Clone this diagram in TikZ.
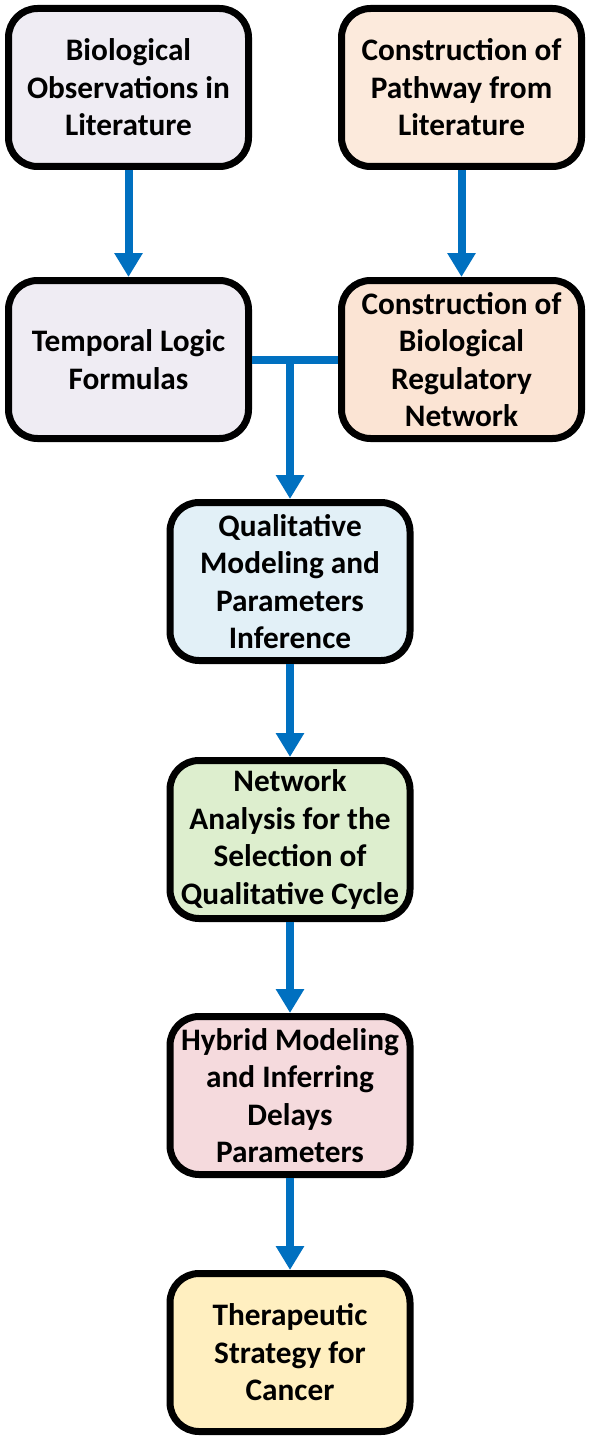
\documentclass[tikz,border=0pt]{standalone}
\usepackage{fontspec}
\setmainfont{Carlito}
\usetikzlibrary{positioning, arrows.meta}
\definecolor{lavfill}{RGB}{239,236,243}
\definecolor{peachA}{RGB}{252,234,220}
\definecolor{peachB}{RGB}{251,228,212}
\definecolor{qblue}{RGB}{226,240,247}
\definecolor{ngreen}{RGB}{221,238,206}
\definecolor{hpink}{RGB}{245,218,221}
\definecolor{tyellow}{RGB}{255,239,192}
\definecolor{arrblue}{RGB}{0,112,192}

\begin{document}
\begin{tikzpicture}[x=1pt, y=-1pt]
\useasboundingbox (0,0) rectangle (591,1442);
% Block styles
\tikzstyle{stage}=[draw=black, line width=7pt, rounded corners=29pt, inner sep=0pt, align=center, minimum width=240pt, minimum height=158pt, font=\bfseries\fontsize{31.3}{37.5}\selectfont]
\tikzstyle{flow}=[draw=arrblue, line width=8pt, -{Triangle[width=27pt, length=24pt]}]
\tikzstyle{tline}=[draw=arrblue, line width=8pt]
% Col 1
\node[stage, fill=lavfill] (obs) at (128.5, 87.5) {Biological\\Observations in\\Literature};
\node[stage, fill=lavfill, below=107pt of obs] (tlf) {Temporal Logic\\Formulas};
% Col 2
\node[stage, fill=peachA, right=86pt of obs] (path) {Construction of\\Pathway from\\Literature};
\node[stage, fill=peachB, below=107pt of path] (brn) {Construction of\\Biological\\Regulatory\\Network};
% Middle column
\node[stage, fill=qblue] (qual) at (290, 581.5) {Qualitative\\Modeling and\\Parameters\\Inference};
\node[stage, fill=ngreen, below=93pt of qual] (net) {Network\\Analysis for the\\Selection of\\Qualitative Cycle};
\node[stage, fill=hpink, below=91pt of net] (hyb) {Hybrid Modeling\\and Inferring\\Delays\\Parameters};
\node[stage, fill=tyellow, below=92pt of hyb] (ther) {Therapeutic\\Strategy for\\Cancer};
% Arrows
\draw[flow] (obs)--(tlf);
\draw[flow] (path)--(brn);
\coordinate (j) at (tlf.east -| qual.north);
\draw[tline] (tlf.east)--(brn.west);
\draw[flow] (j)--(qual);
\draw[flow] (qual)--(net);
\draw[flow] (net)--(hyb);
\draw[flow] (hyb)--(ther);
\end{tikzpicture}
\end{document}
